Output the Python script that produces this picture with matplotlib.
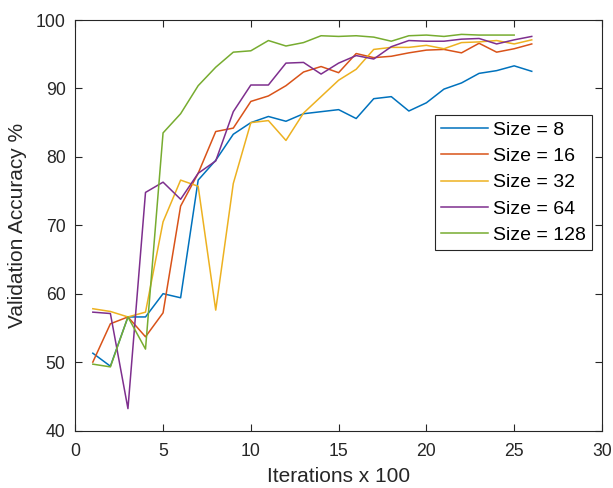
import numpy as np
import matplotlib.pyplot as plt

plt.rcParams['font.family'] = ['Liberation Sans', 'DejaVu Sans']

# validation accuracy (%) per 100 iterations, one series per batch size
iters = np.arange(1, 27)
acc_8 = [51.3, 49.4, 56.6, 56.6, 60.0, 59.4, 76.6, 79.5, 83.3, 85.0,
         85.9, 85.2, 86.3, 86.6, 86.9, 85.6, 88.5, 88.8, 86.7, 87.9,
         89.9, 90.8, 92.2, 92.6, 93.3, 92.5]
acc_16 = [50.0, 55.6, 56.6, 53.7, 57.2, 72.8, 77.6, 83.7, 84.2, 88.1,
          88.9, 90.4, 92.4, 93.2, 92.3, 95.1, 94.5, 94.7, 95.2, 95.6,
          95.7, 95.2, 96.6, 95.3, 95.8, 96.5]
acc_32 = [57.8, 57.4, 56.6, 57.3, 70.5, 76.6, 75.7, 57.6, 76.1, 85.0,
          85.3, 82.4, 86.4, 88.8, 91.2, 92.8, 95.7, 96.0, 96.0, 96.3,
          95.8, 96.7, 96.8, 97.0, 96.5, 97.1]
acc_64 = [57.3, 57.1, 43.2, 74.8, 76.3, 73.8, 77.6, 79.4, 86.6, 90.5,
          90.5, 93.7, 93.8, 92.1, 93.7, 94.8, 94.3, 96.1, 97.0, 96.9,
          96.9, 97.2, 97.3, 96.5, 97.1, 97.6]
acc_128 = [49.7, 49.3, 56.6, 51.9, 83.5, 86.3, 90.4, 93.1, 95.3, 95.5,
           97.0, 96.2, 96.7, 97.7, 97.6, 97.7, 97.5, 96.9, 97.7, 97.8,
           97.6, 97.9, 97.8, 97.8, 97.8]

labels = ['Size = 8', 'Size = 16', 'Size = 32', 'Size = 64', 'Size = 128']
colors = ['#0072BD', '#D95319', '#EDB120', '#7E2F8E', '#77AC30']
series = [acc_8, acc_16, acc_32, acc_64, acc_128]

fig = plt.figure(figsize=(6.13, 4.88), dpi=100)
ax = fig.add_axes([0.1228, 0.1178, 0.8592, 0.8412])

for acc, c, lab in zip(series, colors, labels):
    ax.plot(iters[:len(acc)], acc, color=c, lw=1.1, label=lab)

ax.set_xlim(0, 30)
ax.set_ylim(40, 100)
ax.set_xticks(range(0, 31, 5))
ax.set_yticks(range(40, 101, 10))
ax.set_xlabel('Iterations x 100', fontsize=15, color='#262626', labelpad=5)
ax.set_ylabel('Validation Accuracy %', fontsize=15, color='#262626', labelpad=6)

ax.tick_params(direction='in', top=True, right=True, length=5, width=0.8,
               labelsize=12.7, colors='#262626')
ax.tick_params(axis='x', pad=9)
ax.tick_params(axis='y', pad=7)
for sp in ax.spines.values():
    sp.set_color('#262626')
    sp.set_linewidth(0.8)

leg = ax.legend(loc='upper right', bbox_to_anchor=(0.981, 0.768),
                borderaxespad=0, fontsize=14, fancybox=False,
                edgecolor='#262626', framealpha=1, handlelength=2.45,
                handletextpad=0.25, labelspacing=0.45, borderpad=0.3)
leg.get_frame().set_linewidth(0.8)

fig.savefig('out.png', dpi=100)
